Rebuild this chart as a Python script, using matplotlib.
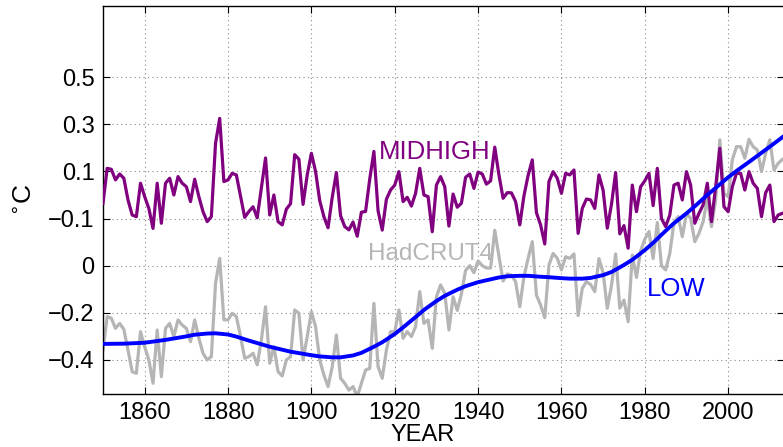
import numpy as np
import matplotlib
matplotlib.use('Agg')
import matplotlib.pyplot as plt

plt.rcParams['font.family'] = ['Liberation Sans', 'DejaVu Sans']
plt.rcParams['axes.unicode_minus'] = True

years = np.arange(1850, 2014)

# MIDHIGH component (deg C), drawn shifted up by 0.3 on the shared axis
midhigh = [
    -0.035, 0.113, 0.109, 0.064, 0.089, 0.071, -0.021, -0.085, -0.092, 0.050,   # 1850s
    -0.007, -0.057, -0.142, 0.050, -0.120, 0.050, 0.071, 0.000, 0.078, 0.050,   # 1860s
    0.035, -0.028, 0.067, -0.007, -0.071, -0.113, -0.092, 0.219, 0.325, 0.057,  # 1870s
    0.064, 0.092, 0.085, -0.004, -0.095, -0.070, -0.050, -0.097, 0.030, 0.157,  # 1880s
    -0.085, 0.000, -0.113, -0.127, -0.060, -0.037, 0.171, 0.152, -0.040, 0.085, # 1890s
    0.177, 0.100, -0.024, -0.092, -0.139, -0.010, 0.095, -0.088, -0.134, -0.148,# 1900s
    -0.115, -0.175, -0.073, -0.070, 0.067, 0.185, -0.067, -0.149, -0.018, 0.021,# 1910s
    0.042, 0.099, -0.028, -0.010, -0.047, 0.007, 0.113, 0.000, -0.007, -0.156,  # 1920s
    0.042, 0.078, 0.035, -0.132, 0.004, -0.052, -0.035, 0.075, 0.089, 0.028,   # 1930s
    0.097, 0.089, 0.046, 0.060, 0.203, 0.085, -0.014, 0.010, 0.009, -0.028,    # 1940s
    -0.127, -0.004, 0.083, 0.149, -0.075, -0.127, -0.208, 0.057, 0.099, 0.071, # 1950s
    0.007, 0.092, 0.085, 0.106, -0.163, -0.057, -0.017, -0.021, -0.057, 0.085, # 1960s
    0.020, -0.141, -0.040, 0.095, -0.165, -0.130, -0.226, 0.042, -0.071, 0.035,# 1970s
    0.060, 0.092, -0.045, 0.113, -0.100, -0.134, -0.085, 0.042, 0.050, -0.021, # 1980s
    0.099, 0.042, -0.120, -0.078, -0.042, 0.050, -0.113, 0.035, 0.198, -0.050, # 1990s
    -0.071, 0.035, 0.092, 0.092, 0.021, 0.099, 0.050, 0.028, -0.092, 0.010,    # 2000s
    0.042, -0.113, -0.085, -0.078,                                             # 2010s
]
midhigh_offset = 0.3

# HadCRUT4 annual anomaly (deg C)
hadcrut4 = [
    -0.358, -0.216, -0.223, -0.266, -0.245, -0.270, -0.358, -0.450, -0.457, -0.280,
    -0.344, -0.400, -0.499, -0.273, -0.471, -0.266, -0.245, -0.301, -0.230, -0.252,
    -0.266, -0.322, -0.230, -0.308, -0.372, -0.400, -0.386, -0.075, 0.031, -0.230,
    -0.230, -0.202, -0.216, -0.301, -0.393, -0.386, -0.372, -0.421, -0.315, -0.174,
    -0.414, -0.344, -0.450, -0.468, -0.400, -0.386, -0.188, -0.202, -0.400, -0.301,
    -0.195, -0.259, -0.400, -0.464, -0.513, -0.429, -0.294, -0.478, -0.499, -0.528,
    -0.513, -0.556, -0.499, -0.443, -0.436, -0.160, -0.429, -0.478, -0.358, -0.280,
    -0.280, -0.188, -0.308, -0.280, -0.301, -0.259, -0.110, -0.245, -0.230, -0.351,
    -0.132, -0.082, -0.117, -0.273, -0.132, -0.190, -0.120, -0.020, 0.000, -0.030,
    0.020, 0.000, -0.010, -0.010, 0.150, 0.040, -0.065, -0.035, -0.040, -0.068,
    -0.174, -0.047, 0.031, 0.102, -0.125, -0.167, -0.221, 0.003, 0.052, 0.031,
    -0.018, 0.038, 0.031, 0.050, -0.212, -0.096, -0.068, -0.080, -0.110, 0.030,
    -0.030, -0.181, -0.085, 0.050, -0.180, -0.146, -0.238, 0.045, -0.050, 0.063,
    0.112, 0.145, 0.030, 0.183, 0.000, -0.018, 0.052, 0.183, 0.208, 0.123,
    0.222, 0.201, 0.102, 0.137, 0.187, 0.286, 0.166, 0.279, 0.534, 0.307,
    0.293, 0.449, 0.505, 0.505, 0.456, 0.536, 0.505, 0.491, 0.399, 0.477,
    0.534, 0.406, 0.434, 0.451,
]

# LOW (smooth) component
low_years = [1850, 1855, 1860, 1865, 1870, 1872, 1875, 1877, 1880, 1882, 1885,
             1890, 1895, 1900, 1902, 1905, 1907, 1910, 1912, 1915, 1917, 1920,
             1922, 1925, 1927, 1930, 1932, 1935, 1937, 1940, 1942, 1945, 1947,
             1950, 1952, 1955, 1957, 1960, 1962, 1965, 1967, 1970, 1972, 1975,
             1977, 1980, 1982, 1985, 1987, 1990, 1992, 1995, 1997, 2000, 2002,
             2005, 2007, 2010, 2013]
low = [-0.332, -0.331, -0.327, -0.315, -0.300, -0.293, -0.288, -0.287, -0.292,
       -0.301, -0.318, -0.344, -0.365, -0.380, -0.385, -0.389, -0.389, -0.381,
       -0.370, -0.344, -0.325, -0.290, -0.262, -0.218, -0.188, -0.150, -0.128,
       -0.102, -0.087, -0.070, -0.062, -0.050, -0.045, -0.043, -0.043, -0.047,
       -0.049, -0.053, -0.055, -0.055, -0.052, -0.040, -0.027, 0.003, 0.025,
       0.066, 0.097, 0.148, 0.180, 0.222, 0.252, 0.300, 0.330, 0.375, 0.402,
       0.440, 0.466, 0.505, 0.545]

ytick_pos = [-0.4, -0.2, 0, 0.2, 0.4, 0.6, 0.8]
ytick_labels = ['\u22120.4', '\u22120.2', '0', '\u22120.1', '0.1', '0.3', '0.5']
xticks = [1860, 1880, 1900, 1920, 1940, 1960, 1980, 2000]

fig = plt.figure(figsize=(7.83, 4.47), dpi=100)
ax = fig.add_axes([103 / 783, 1 - 394 / 447, 681 / 783, 388 / 447])

ax.plot(years, hadcrut4, color='#b5b5b5', lw=2.3, zorder=2)
ax.plot(years, np.array(midhigh) + midhigh_offset, color='#800080', lw=2.3, zorder=3)
ax.plot(low_years, low, color='#0000ff', lw=2.8, zorder=4, solid_joinstyle='round')

ax.text(1929.7, 0.483, 'MIDHIGH', color='#800080', fontsize=18.5, ha='center', va='center')
ax.text(1928.5, 0.05, 'HadCRUT4', color='#b5b5b5', fontsize=17.5, ha='center', va='center')
ax.text(1987.5, -0.099, 'LOW', color='#0000ff', fontsize=18.5, ha='center', va='center')

ax.set_xlim(1850, 2013.4)
ax.set_ylim(-0.5446, 1.102)
ax.set_xticks(xticks)
ax.set_yticks(ytick_pos)
ax.set_yticklabels(ytick_labels)
ax.tick_params(direction='in', top=True, right=True, labelsize=17, length=5, pad=6)
ax.grid(True, linestyle=(0, (1, 3)), color='#888888', lw=0.8)
for s in ax.spines.values():
    s.set_linewidth(1.0)

ax.set_xlabel('YEAR', fontsize=17, labelpad=0)
ax.xaxis.set_label_coords(0.47, -0.078)
ax.set_ylabel('$^{\\circ}$C', fontsize=19, labelpad=8)

fig.savefig('out.png', dpi=100)
